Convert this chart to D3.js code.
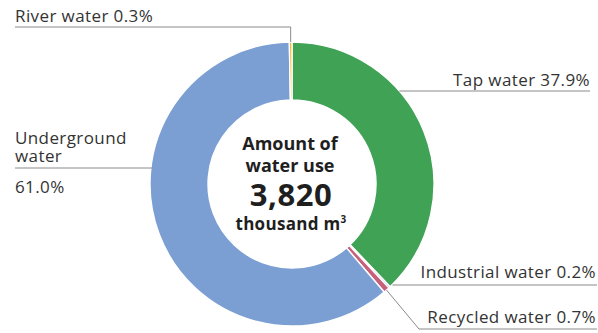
<!DOCTYPE html>
<html><head><meta charset="utf-8">
<script src="https://cdn.jsdelivr.net/npm/d3@7/dist/d3.min.js"></script>
<style>html,body{margin:0;padding:0;background:#fff;}svg{display:block;}</style>
</head><body>
<svg id="c" width="598" height="333"></svg>
<script>
const categories = ["Tap water", "Industrial water", "Recycled water", "Underground water", "River water"];
const values = [37.9, 0.2, 0.7, 61.0, 0.3];
const valueLabels = ["37.9%", "0.2%", "0.7%", "61.0%", "0.3%"];
const colors = ["#3fa254", "#2f7ec2", "#c8607a", "#7b9fd3", "#f4b324"];
const centerLines = ["Amount of", "water use"];
const totalLabel = "3,820";
const unitLabel = "thousand m";

const svg = d3.select("#c");
const cx = 292, cy = 184, rO = 142, rI = 84;
const g = svg.append("g").attr("transform", `translate(${cx},${cy})`);
const data = categories.map((c, i) => ({cat: c, v: values[i], lab: valueLabels[i], col: colors[i]}));
const pie = d3.pie().sort(null).value(d => d.v);
const arcs = pie(data);
const arc = d3.arc().innerRadius(rI).outerRadius(rO);
g.selectAll("path").data(arcs).join("path")
  .attr("d", arc).attr("fill", d => d.data.col)
  .attr("stroke", "#fff").attr("stroke-width", 1.4);

const lineCol = "#8a8a8a";
const txtCol = "#333333";
const fontF = "'Open Sans', 'Noto Sans', sans-serif";
const fs = 17;
function pt(a, r) { return [cx + r * Math.sin(a), cy - r * Math.cos(a)]; }
function mid(d) { return (d.startAngle + d.endAngle) / 2; }
const L = svg.append("g").attr("fill", "none").attr("stroke", lineCol).attr("stroke-width", 1);
const T = svg.append("g").attr("fill", txtCol).style("font-family", fontF).style("font-size", fs + "px").style("letter-spacing", "0.4px");

// Tap
{
  const y = 91; const x0 = cx + Math.sqrt(rO*rO - (cy - y)*(cy - y));
  L.append("path").attr("d", `M${x0},${y}H590`);
  T.append("text").attr("x", 590).attr("y", 86).attr("text-anchor", "end").text(`${categories[0]} ${valueLabels[0]}`);
}
// Industrial
{
  const p = pt(mid(arcs[1]), rO);
  L.append("path").attr("d", `M${p[0]+3},${285}H597`);
  T.append("text").attr("x", 596).attr("y", 278).attr("text-anchor", "end").text(`${categories[1]} ${valueLabels[1]}`);
}
// Recycled
{
  const p = pt(mid(arcs[2]), rO);
  L.append("path").attr("d", `M${p[0]},${p[1]}L419,329H597`);
  T.append("text").attr("x", 596).attr("y", 323).attr("text-anchor", "end").text(`${categories[2]} ${valueLabels[2]}`);
}
// Underground
{
  const y = 168; const x0 = cx - Math.sqrt(rO*rO - (cy - y)*(cy - y));
  L.append("path").attr("d", `M15,${y}H${x0+2}`);
  T.append("text").attr("x", 15).attr("y", 144).text("Underground");
  T.append("text").attr("x", 15).attr("y", 162).text("water");
  T.append("text").attr("x", 15).attr("y", 193).text(valueLabels[3]);
}
// River
{
  const p = pt(mid(arcs[4]), rO);
  L.append("path").attr("d", `M${p[0]},${p[1]}V27H15`);
  T.append("text").attr("x", 15).attr("y", 22).text(`${categories[4]} ${valueLabels[4]}`);
}
// Center
const C = svg.append("g").attr("fill", "#1f1f1f").style("font-family", fontF).style("font-weight", "bold").attr("text-anchor", "middle");
C.append("text").attr("x", 290).attr("y", 150).style("font-size", "18px").text(centerLines[0]);
C.append("text").attr("x", 290).attr("y", 172).style("font-size", "18px").text(centerLines[1]);
C.append("text").attr("x", 291).attr("y", 206).style("font-size", "31px").style("letter-spacing", "0.6px").text(totalLabel);
const u = C.append("text").attr("x", 291).attr("y", 230).style("font-size", "17px").style("letter-spacing", "0.3px").text(unitLabel);
u.append("tspan").attr("dy", -7).style("font-size", "10px").text("3");
</script>
</body></html>
